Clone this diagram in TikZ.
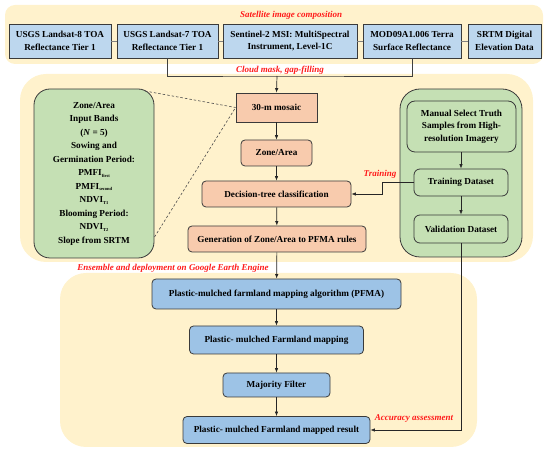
\documentclass[tikz,border=0pt]{standalone}
\usepackage{fontspec}
\setmainfont{Liberation Serif}
\usetikzlibrary{arrows.meta}
\definecolor{panelY}{HTML}{FFF2CC}
\definecolor{topB}{HTML}{BDD7EE}
\definecolor{orgB}{HTML}{F8CBAD}
\definecolor{grnB}{HTML}{C5E0B4}
\definecolor{bluB}{HTML}{9DC3E6}
\definecolor{edge}{HTML}{3A3A3A}
\definecolor{lblred}{HTML}{FF1A1A}
\newcommand{\sbx}[1]{\raisebox{-0.35ex}{\fontsize{4.5}{5}\selectfont #1}}
\begin{document}
\begin{tikzpicture}[x=1pt,y=-1pt,
  panel/.style={fill=panelY,draw=none},
  box/.style={draw=edge,line width=0.8pt,inner sep=0pt,align=center,font=\fontsize{9.2}{12.5}\selectfont\bfseries},
  topbox/.style={box,fill=topB},
  obox/.style={box,fill=orgB},
  gbox/.style={box,fill=grnB},
  bbox/.style={box,fill=bluB,rounded corners=4pt},
  lbl/.style={text=lblred,font=\fontsize{9}{10}\selectfont\bfseries\itshape,inner sep=0pt},
  arr/.style={-{Latex[length=4.5pt,width=3.5pt]},line width=0.7pt,draw=black!85},
  link/.style={line width=0.7pt,draw=black!75},
  dline/.style={line width=0.6pt,draw=black!70,dash pattern=on 2.5pt off 2pt}]
\useasboundingbox (0,0) rectangle (550,454);
% panels
\fill[panel,rounded corners=10pt] (5,5) rectangle (543,64);
\fill[panel,rounded corners=26pt] (20,74) rectangle (533,262);
\fill[panel,rounded corners=26pt] (60,273) rectangle (477,447);
% top boxes
\node[topbox,minimum width=102pt,minimum height=34pt] (b1) at (60,41) {USGS Landsat-8 TOA\\Reflectance Tier 1};
\node[topbox,minimum width=101pt,minimum height=34pt] (b2) at (167.5,41) {USGS Landsat-7 TOA\\Reflectance Tier 1};
\node[topbox,minimum width=134pt,minimum height=34pt] (b3) at (290,41) {Sentinel-2 MSI: MultiSpectral\\Instrument, Level-1C};
\node[topbox,minimum width=98pt,minimum height=34pt] (b4) at (412,41) {MOD09A1.006 Terra\\Surface Reflectance};
\node[topbox,minimum width=73pt,minimum height=34pt] (b5) at (504.5,41) {SRTM Digital\\Elevation Data};
\draw[line width=0.7pt,draw=black!50] (b1) -- (b2);
\draw[line width=0.7pt,draw=black!50] (b2) -- (b3);
\draw[line width=0.7pt,draw=black!50] (b3) -- (b4);
\draw[line width=0.7pt,draw=black!50] (b4) -- (b5);
\node[lbl] (l1) at (291,15) {Satellite image composition};
\node[lbl] (l2) at (280,70) {Cloud mask, gap-filling};
% orange chain
\node[obox,minimum width=81pt,minimum height=29pt] (mos) at (276.5,107.5) {30-m mosaic};
\node[obox,rounded corners=4pt,minimum width=71pt,minimum height=26pt] (zon) at (276.5,153) {Zone/Area};
\node[obox,rounded corners=4pt,minimum width=149pt,minimum height=26pt] (dt) at (276.5,194) {Decision-tree classification};
\node[obox,rounded corners=4pt,minimum width=178pt,minimum height=26pt] (gen) at (277,239) {Generation of Zone/Area to PFMA rules};
\coordinate (j) at (277,76);
\draw[link] (b2.south) |- (j) -| (b4.south);
\draw[arr] (j) -- (mos.north);
\draw[arr] (mos) -- (zon);
\draw[arr] (zon) -- (dt);
\draw[arr] (dt) -- (gen);
% left green box
\node[gbox,rounded corners=16pt,minimum width=120pt,minimum height=169pt,
  font=\fontsize{9.2}{13.5}\selectfont\bfseries] (gl) at (94,173.5)
  {Zone/Area\\Input Bands\\(\textit{N} = 5)\\Sowing and\\Germination Period:\\PMFI\sbx{first}\\PMFI\sbx{second}\\NDVI\sbx{T1}\\Blooming Period:\\NDVI\sbx{T2}\\Slope from SRTM};
\coordinate (d1) at (145,91);
\coordinate (d2) at (154.5,237);
\draw[dline] (d1) -- (mos.west);
\draw[dline] (d2) -- (mos.west);
% right green group
\node[gbox,rounded corners=20pt,minimum width=122pt,minimum height=168pt] (gr) at (461,173) {};
\node[gbox,rounded corners=8pt,minimum width=109pt,minimum height=51pt] (man) at (461.5,126.5) {Manual Select Truth\\Samples from High-\\resolution Imagery};
\node[gbox,rounded corners=6pt,minimum width=94pt,minimum height=27pt] (tr) at (461,182.5) {Training Dataset};
\node[gbox,rounded corners=6pt,minimum width=94pt,minimum height=28pt] (va) at (461,229) {Validation Dataset};
\draw[arr] (man.south -| tr.north) -- (tr.north);
\draw[arr] (tr) -- (va);
\coordinate (t1) at (382,182.5);
\coordinate (t2) at (382,194);
\draw[arr] (tr.west) -- (t1) -- (t2) -- (dt.east);
\node[lbl] (l3) at (380,174) {Training};
% bottom chain
\node[lbl] (l4) at (173,268) {Ensemble and deployment on Google Earth Engine};
\node[bbox,minimum width=249pt,minimum height=30pt] (pf) at (276.5,294) {Plastic-mulched farmland mapping algorithm (PFMA)};
\node[bbox,minimum width=174pt,minimum height=28pt] (mp) at (276.5,340) {Plastic- mulched Farmland mapping};
\node[bbox,minimum width=107pt,minimum height=24pt] (mj) at (276.5,385) {Majority Filter};
\node[bbox,minimum width=187pt,minimum height=27pt] (rs) at (276.5,430) {Plastic- mulched Farmland mapped result};
\draw[arr] (gen) -- (pf);
\draw[arr] (pf) -- (mp);
\draw[arr] (mp) -- (mj);
\draw[arr] (mj) -- (rs);
\draw[arr] (va.south) |- (rs.east);
\node[lbl] (l5) at (414,419) {Accuracy assessment};
\end{tikzpicture}
\end{document}
